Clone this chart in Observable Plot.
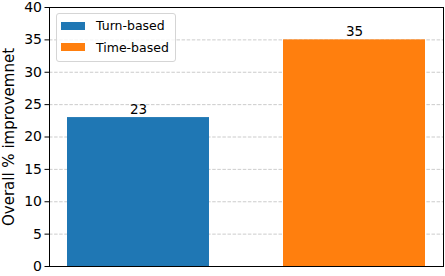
<!DOCTYPE html>
<html><head><meta charset="utf-8">
<script src="https://cdn.jsdelivr.net/npm/d3@7"></script>
<script src="https://cdn.jsdelivr.net/npm/@observablehq/plot@0.6"></script>
<style>
body{margin:0;background:#fff;}
#chart{position:relative;width:445px;height:276px;font-family:"DejaVu Sans",sans-serif;}
#legend{position:absolute;left:56px;top:13px;width:118px;height:47px;border:1px solid #d5d5d5;border-radius:3px;background:rgba(255,255,255,0.8);font-size:12.5px;color:#000;}
.item{position:absolute;left:4px;height:16px;display:flex;align-items:center;white-space:nowrap;}
.sw{width:24px;height:8px;margin-right:11px;flex:none;}
g[aria-label="y-axis label"] text{font-size:15px;}
</style></head><body><div id="chart"></div>
<script>
const categories = ["Turn-based", "Time-based"];
const values = [23, 35];
const colors = ["#1f77b4", "#ff7f0e"];
const yTicks = [0, 5, 10, 15, 20, 25, 30, 35, 40];
const gridTicks = [5, 10, 15, 20, 25, 30, 35];
const yLabel = "Overall % improvemnet";

const data = categories.map((c, i) => ({category: c, value: values[i]}));

const plot = Plot.plot({
  width: 445, height: 276,
  marginLeft: 49, marginRight: 2, marginTop: 7, marginBottom: 10,
  style: {fontFamily: "DejaVu Sans, sans-serif", fontSize: "14px", color: "black", background: "white"},
  x: {domain: categories, paddingInner: 0.343, paddingOuter: 0.083, axis: null},
  y: {domain: [0, 40], ticks: yTicks},
  color: {domain: categories, range: colors},
  marks: [
    Plot.gridY(gridTicks, {stroke: "#b0b0b0", strokeOpacity: 0.65, strokeDasharray: "3.5,1.6"}),
    Plot.barY(data, {x: "category", y: "value", fill: "category"}),
    Plot.text(data, {x: "category", y: "value", text: d => String(d.value), lineAnchor: "bottom", dy: -4, fontSize: 13.5, fill: "black"}),
    Plot.frame({stroke: "black"}),
    Plot.axisY({ticks: yTicks, tickSize: 4.5, tickPadding: 3, fontSize: 14, label: yLabel, labelAnchor: "center", labelArrow: "none", labelOffset: 46})
  ]
});

const chart = document.getElementById("chart");
chart.appendChild(plot);
const color = plot.scale("color");
const legend = document.createElement("div");
legend.id = "legend";
categories.forEach((c, i) => {
  const item = document.createElement("div");
  item.className = "item";
  item.style.top = (3.5 + i * 21.5) + "px";
  const sw = document.createElement("div");
  sw.className = "sw";
  sw.style.background = color.apply(c);
  const lab = document.createElement("span");
  lab.textContent = c;
  item.appendChild(sw); item.appendChild(lab);
  legend.appendChild(item);
});
chart.appendChild(legend);
</script></body></html>
